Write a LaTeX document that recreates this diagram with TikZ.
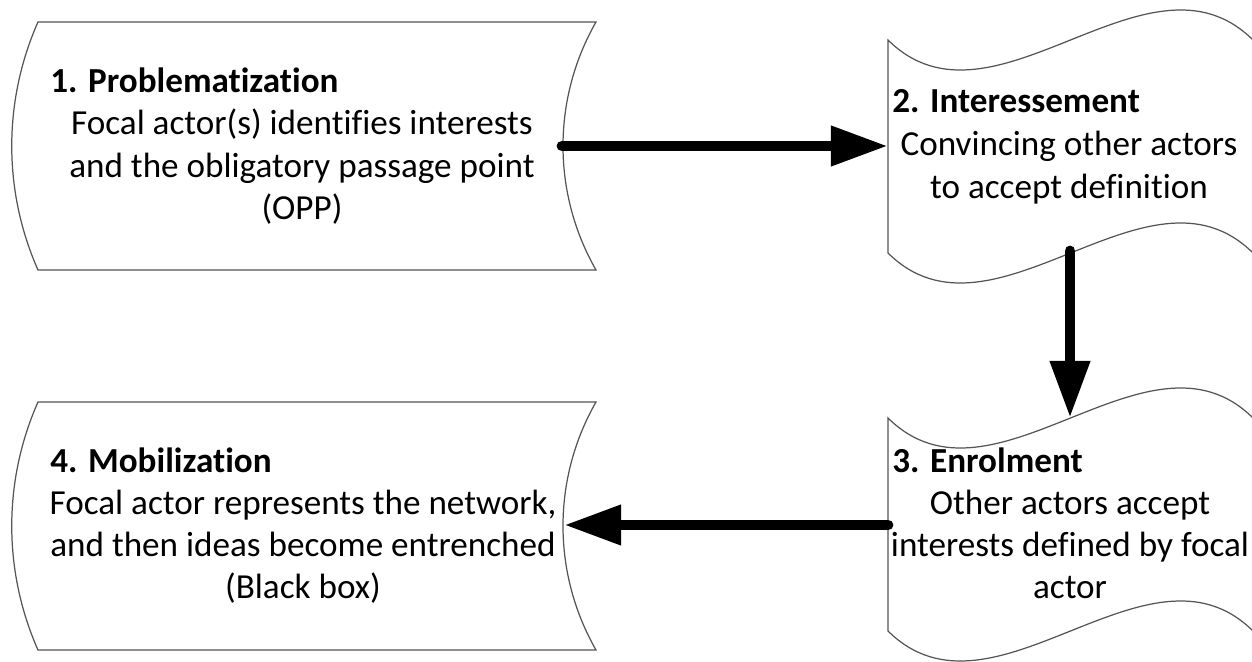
\documentclass[tikz,border=0pt]{standalone}
\usepackage{fontspec}
\setmainfont{Carlito}[Ligatures=NoCommon]
\usetikzlibrary{arrows.meta}
\definecolor{outline}{RGB}{85,85,85}

\begin{document}
\begin{tikzpicture}[x=0.02cm, y=-0.02cm,
  stage/.style={draw=outline, line width=0.7pt, fill=white},
  title/.style={font=\fontsize{20}{24}\selectfont\bfseries, anchor=base west, inner sep=0pt},
  body/.style={font=\fontsize{20}{24}\selectfont, align=flush center, text width=11cm, anchor=base, inner sep=0pt},
  flow/.style={line width=6.2pt, line cap=round, -{Triangle[length=32.5pt, width=21.5pt]}}]
  \useasboundingbox (0,0) rectangle (1252,662);

  % Stored-data shapes (left column)
  \draw[stage] (38,22) -- (596,22) .. controls (552,99) and (552,193) .. (596,270)
    -- (38,270) .. controls (3,191) and (3,101) .. (38,22) -- cycle;
  \draw[stage, shift={(0,380)}] (38,22) -- (596,22) .. controls (552,99) and (552,193) .. (596,270)
    -- (38,270) .. controls (3,191) and (3,101) .. (38,22) -- cycle;

  % Tape shapes (right column)
  \draw[stage] (888,40) .. controls (993,144) and (1148,-64) .. (1253,40) -- (1253,253)
    .. controls (1148,149) and (993,357) .. (888,253) -- cycle;
  \draw[stage, shift={(0,378)}] (888,40) .. controls (993,144) and (1148,-64) .. (1253,40) -- (1253,253)
    .. controls (1148,149) and (993,357) .. (888,253) -- cycle;

  % Texts
  \node[title] (probTitle) at (50,93) {1. Problematization};
  \node[body] (probText) at (302,135) {Focal actor(s) identifies interests\\and the obligatory passage point\\(OPP)};

  \node[title] (interTitle) at (892,113) {2. Interessement};
  \node[body] (interText) at (1069,156) {Convincing other actors\\to accept definition};

  \node[title] (enrolTitle) at (892,473) {3. Enrolment};
  \node[body] (enrolText) at (1070,514) {Other actors accept\\interests defined by focal\\actor};

  \node[title] (mobilTitle) at (50,473) {4. Mobilization};
  \node[body] (mobilText) at (303,514) {Focal actor represents the network,\\and then ideas become entrenched\\(Black box)};

  % Connector ends
  \coordinate (probOut) at (562,146);
  \coordinate (interIn) at (888,146);
  \coordinate (interOut) at (1070,251);
  \coordinate (enrolIn) at (1070,418);
  \coordinate (enrolOut) at (888,525);
  \coordinate (mobilIn) at (564,525);

  % Arrows
  \draw[flow] (probOut) -- (interIn);
  \draw[flow] (interOut) -- (enrolIn);
  \draw[flow] (enrolOut) -- (mobilIn);
\end{tikzpicture}
\end{document}
